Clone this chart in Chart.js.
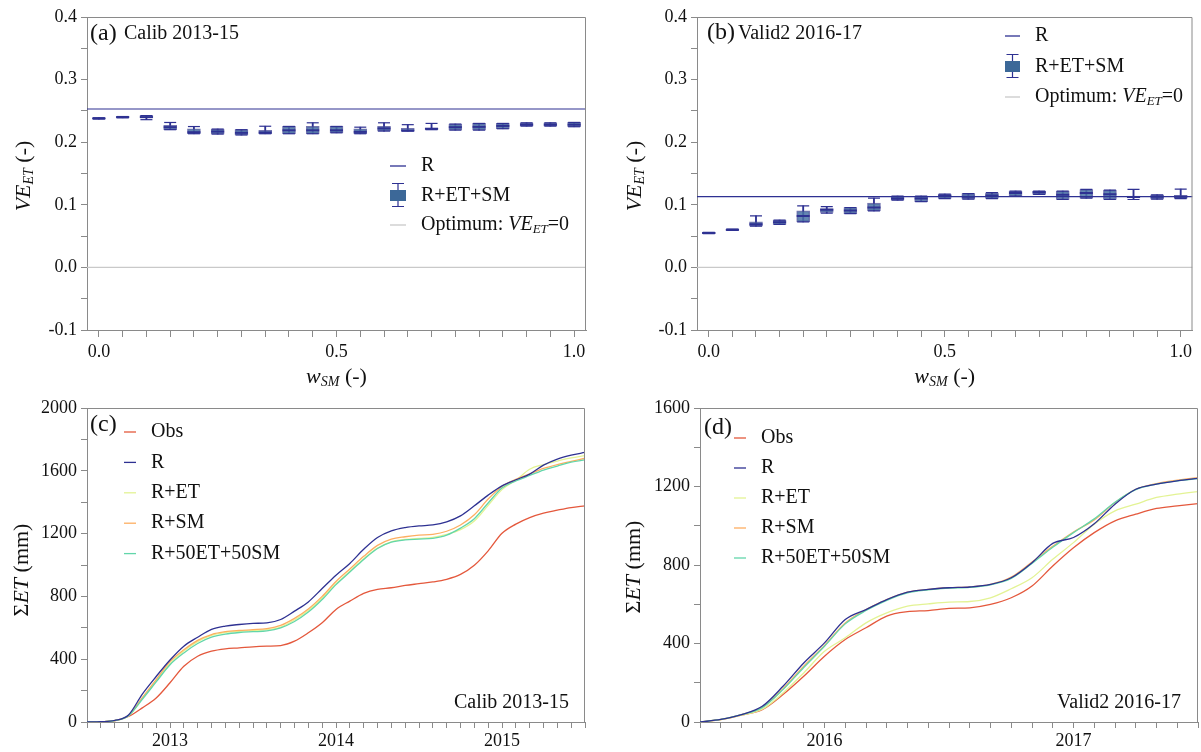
<!DOCTYPE html>
<html>
<head>
<meta charset="utf-8">
<script src="https://cdn.jsdelivr.net/npm/chart.js@4.4.0/dist/chart.umd.min.js"></script>
<style>
  html, body { margin: 0; padding: 0; background: #fff; }
  body { width: 1201px; height: 752px; position: relative; overflow: hidden; }
  canvas { position: absolute; }
</style>
</head>
<body>
<canvas id="ca" style="left:0px;top:0px;width:600px;height:395px" width="600" height="395"></canvas>
<canvas id="cb" style="left:610px;top:0px;width:591px;height:395px" width="591" height="395"></canvas>
<canvas id="cc" style="left:0px;top:376px;width:600px;height:376px" width="600" height="376"></canvas>
<canvas id="cd" style="left:600px;top:376px;width:601px;height:376px" width="601" height="376"></canvas>
<script>
// ---- box plots, panels (a) and (b) ----
const wsm = [0, 0.05, 0.1, 0.15, 0.2, 0.25, 0.3, 0.35, 0.4, 0.45, 0.5, 0.55, 0.6, 0.65, 0.7, 0.75, 0.8, 0.85, 0.9, 0.95, 1.0];

const aLow  = [0.237, 0.239, 0.236, 0.220, 0.2135, 0.213, 0.2115, 0.2135, 0.2135, 0.2135, 0.215, 0.2135, 0.2178, 0.2178, 0.220, 0.2193, 0.2193, 0.2215, 0.2257, 0.2257, 0.2247];
const aQ1   = [0.237, 0.2395, 0.239, 0.220, 0.2135, 0.213, 0.2115, 0.2135, 0.2135, 0.2135, 0.215, 0.2135, 0.2178, 0.2178, 0.2205, 0.2193, 0.2193, 0.2215, 0.2257, 0.2257, 0.2247];
const aMed  = [0.238, 0.240, 0.240, 0.224, 0.216, 0.217, 0.215, 0.2155, 0.219, 0.219, 0.219, 0.2165, 0.222, 0.2185, 0.2215, 0.224, 0.2245, 0.226, 0.228, 0.228, 0.228];
const aQ3   = [0.239, 0.241, 0.2425, 0.227, 0.2215, 0.221, 0.220, 0.219, 0.2252, 0.2252, 0.2252, 0.2215, 0.2252, 0.222, 0.2225, 0.229, 0.230, 0.230, 0.231, 0.231, 0.2316];
const aHigh = [0.239, 0.241, 0.2425, 0.2315, 0.225, 0.221, 0.220, 0.2255, 0.2252, 0.231, 0.2252, 0.224, 0.231, 0.228, 0.230, 0.229, 0.230, 0.230, 0.231, 0.231, 0.2316];
const rLevelA = 0.253;

const bLow  = [0.054, 0.059, 0.066, 0.0685, 0.0728, 0.0867, 0.086, 0.0904, 0.1075, 0.105, 0.110, 0.109, 0.110, 0.114, 0.1165, 0.1085, 0.1107, 0.1085, 0.1085, 0.109, 0.110];
const bQ1   = [0.054, 0.059, 0.066, 0.0685, 0.0728, 0.0877, 0.086, 0.0904, 0.1075, 0.105, 0.110, 0.109, 0.110, 0.114, 0.1165, 0.1085, 0.1107, 0.1085, 0.111, 0.109, 0.110];
const bMed  = [0.055, 0.060, 0.069, 0.072, 0.082, 0.092, 0.091, 0.0957, 0.110, 0.110, 0.114, 0.113, 0.115, 0.119, 0.120, 0.116, 0.119, 0.117, 0.1125, 0.113, 0.113];
const bQ3   = [0.056, 0.061, 0.0728, 0.0756, 0.0904, 0.094, 0.0957, 0.1027, 0.114, 0.114, 0.117, 0.118, 0.119, 0.122, 0.122, 0.122, 0.1245, 0.1235, 0.114, 0.116, 0.115];
const bHigh = [0.056, 0.061, 0.0824, 0.0756, 0.0984, 0.097, 0.0957, 0.1107, 0.114, 0.114, 0.117, 0.118, 0.1195, 0.122, 0.122, 0.122, 0.1245, 0.1235, 0.1245, 0.116, 0.125];
const rLevelB = 0.113;
const optimum = 0;

// ---- cumulative ET, panels (c) and (d), monthly ----
const monthsC = [0,1,2,3,4,5,6,7,8,9,10,11,12,13,14,15,16,17,18,19,20,21,22,23,24,25,26,27,28,29,30,31,32,33,34,35,36];
const yearTicksC = [6, 18, 30];
const yearNamesC = ['2013', '2014', '2015'];
const obsC = [0,2,8,35,90,153,250,355,419,451,466,472,479,483,487,515,568,632,717,770,819,845,855,870,881,892,909,940,998,1090,1202,1260,1302,1330,1349,1366,1377];
const rC   = [0,2,10,45,178,290,395,483,540,590,611,621,628,632,653,706,765,850,935,1010,1100,1175,1217,1238,1249,1255,1275,1313,1377,1445,1504,1543,1579,1636,1675,1700,1717];
const retC = [0,2,9,40,150,262,372,452,512,552,570,578,582,588,605,650,710,790,880,960,1040,1108,1148,1163,1170,1176,1195,1225,1280,1380,1480,1540,1610,1640,1662,1682,1697];
const rsmC = [0,2,9,42,155,270,385,460,520,557,575,583,588,595,615,660,720,800,895,975,1055,1125,1165,1180,1190,1195,1215,1255,1320,1420,1500,1545,1580,1615,1640,1660,1680];
const r50C = [0,2,9,40,145,255,365,440,500,540,560,570,575,580,600,640,700,780,875,955,1035,1105,1145,1160,1165,1170,1190,1235,1295,1395,1490,1535,1570,1605,1630,1655,1670];

const monthsD = [0,1,2,3,4,5,6,7,8,9,10,11,12,13,14,15,16,17,18,19,20,21,22,23,24];
const yearTicksD = [6, 18];
const yearNamesD = ['2016', '2017'];
const obsD = [0,12,35,63,140,233,335,420,480,540,562,568,579,582,599,633,693,795,888,965,1025,1059,1088,1101,1113];
const rD   = [0,13,38,80,182,301,403,522,573,624,662,676,684,688,701,735,812,910,940,1010,1110,1186,1212,1229,1241];
const retD = [0,12,35,65,148,250,360,429,505,556,590,602,611,614,633,679,735,829,914,1008,1076,1110,1144,1161,1174];
const rsmD = [0,13,38,75,170,284,390,505,573,624,662,676,684,688,701,738,815,895,968,1030,1118,1186,1215,1232,1245];
const r50D = [0,13,37,73,165,278,386,500,568,620,658,673,682,686,699,732,808,890,965,1035,1120,1184,1212,1229,1240];

const SERIF = '"Liberation Serif", "DejaVu Serif", serif';
const AXIS = '#8a8a8a';
const NAVY = '#2e3192';
const BOXFILL = 'rgba(74,114,164,0.85)';
const BOXEDGE = 'rgba(70,72,150,0.75)';
const colors = { obs: '#e4583c', r: NAVY, ret: '#e3f394', rsm: '#fdae61', r50: '#62d6aa' };

function f(size, style) { return (style || '') + ' ' + size + 'px ' + SERIF; }

function drawRich(ctx, parts, x, y, align) {
  let w = 0;
  parts.forEach(p => { ctx.font = p.f; w += ctx.measureText(p.t).width; });
  let cx = align === 'center' ? x - w / 2 : (align === 'right' ? x - w : x);
  ctx.textBaseline = 'middle';
  ctx.textAlign = 'left';
  ctx.fillStyle = '#111';
  parts.forEach(p => {
    ctx.font = p.f;
    ctx.fillText(p.t, cx, y + (p.dy || 0));
    cx += ctx.measureText(p.t).width;
  });
}

// frame, titles, legends
function decor(cfg) {
  return {
    id: 'decor',
    afterDraw(chart) {
      const ctx = chart.ctx, a = chart.chartArea;
      ctx.save();
      ctx.strokeStyle = AXIS;
      ctx.lineWidth = 1;
      ctx.beginPath();
      ctx.moveTo(a.left, a.top + 0.5); ctx.lineTo(a.right - 0.5, a.top + 0.5); ctx.lineTo(a.right - 0.5, a.bottom);
      ctx.stroke();

      // y title (rotated)
      ctx.save();
      ctx.translate(cfg.yTitle.x, cfg.yTitle.y);
      ctx.rotate(-Math.PI / 2);
      drawRich(ctx, cfg.yTitle.parts, 0, 0, 'center');
      ctx.restore();
      if (cfg.xTitle) drawRich(ctx, cfg.xTitle.parts, (a.left + a.right) / 2, cfg.xTitle.y, 'center');

      cfg.texts.forEach(t => drawRich(ctx, t.parts, t.x, t.y, t.align || 'left'));

      cfg.legend.items.forEach((it, i) => {
        const y = cfg.legend.y + i * cfg.legend.dy;
        const x0 = cfg.legend.x0, x1 = cfg.legend.x1;
        if (it.box) {
          const cx = (x0 + x1) / 2;
          ctx.strokeStyle = NAVY; ctx.lineWidth = 1.2;
          ctx.beginPath();
          ctx.moveTo(cx, y - 12); ctx.lineTo(cx, y + 11);
          ctx.moveTo(cx - 6, y - 12); ctx.lineTo(cx + 6, y - 12);
          ctx.moveTo(cx - 6, y + 11); ctx.lineTo(cx + 6, y + 11);
          ctx.stroke();
          ctx.fillStyle = '#3c6898';
          ctx.fillRect(x0, y - 5.5, x1 - x0, 11);
        } else {
          ctx.strokeStyle = it.color; ctx.lineWidth = it.w || 1.3;
          ctx.beginPath(); ctx.moveTo(x0, y); ctx.lineTo(x1, y); ctx.stroke();
        }
        drawRich(ctx, it.parts, cfg.legend.tx, y, 'left');
      });
      ctx.restore();
    }
  };
}

function tickGrid() {
  return { drawOnChartArea: false, drawTicks: true, tickLength: 6, color: AXIS, lineWidth: 1 };
}

function boxChart(id, lo, q1, med, q3, hi, rLevel, padRight, cfg) {
  const pts = arr => wsm.map((x, i) => ({ x: x, y: arr[i] }));
  const spans = (a, b) => wsm.map((x, i) => ({ x: x, y: [a[i], b[i]] }));
  const xMin = -0.025, xMax = 1.025;
  return new Chart(document.getElementById(id), {
    type: 'bar',
    data: {
      datasets: [
        { type: 'line', data: [{ x: xMin, y: rLevel }, { x: xMax, y: rLevel }], borderColor: NAVY, borderWidth: 1.2, pointRadius: 0, order: 0 },
        { type: 'line', data: [{ x: xMin, y: optimum }, { x: xMax, y: optimum }], borderColor: '#c9c9c9', borderWidth: 1.2, pointRadius: 0, order: 5 },
        { type: 'line', data: pts(med), showLine: false, pointStyle: 'line', pointRadius: 6.5, borderColor: NAVY, borderWidth: 2, order: 1 },
        { type: 'line', data: pts(hi), showLine: false, pointStyle: 'line', pointRadius: 6, borderColor: NAVY, borderWidth: 1.2, order: 1 },
        { type: 'line', data: pts(lo), showLine: false, pointStyle: 'line', pointRadius: 6, borderColor: NAVY, borderWidth: 1.2, order: 1 },
        { data: spans(q1, q3), barThickness: 13, grouped: false, backgroundColor: BOXFILL, borderColor: BOXEDGE, borderWidth: 1.2, borderSkipped: false, order: 2 },
        { data: spans(lo, hi), barThickness: 1.2, grouped: false, backgroundColor: NAVY, borderWidth: 0, order: 3 }
      ]
    },
    options: {
      responsive: false,
      animation: false,
      layout: { padding: { top: 17, right: padRight, left: 0, bottom: 0 } },
      plugins: { legend: { display: false }, tooltip: { enabled: false } },
      scales: {
        x: {
          type: 'linear', min: xMin, max: xMax, offset: false,
          grid: Object.assign(tickGrid(), { tickLength: 7, offset: false }),
          border: { display: true, color: AXIS },
          afterBuildTicks: s => { s.ticks = wsm.map(v => ({ value: v })); },
          afterFit: s => { s.height = 65; },
          ticks: {
            autoSkip: false, maxRotation: 0, padding: 4, color: '#111', font: { family: SERIF, size: 18 },
            callback: v => (Math.round(v * 100) % 50 === 0 ? v.toFixed(1) : '')
          }
        },
        y: {
          min: -0.1, max: 0.4,
          grid: tickGrid(),
          border: { display: true, color: AXIS },
          afterFit: s => { s.width = 87; },
          ticks: {
            stepSize: 0.05, padding: 4, color: '#111', font: { family: SERIF, size: 18 },
            callback: v => (Math.round(v * 100) % 10 === 0 ? v.toFixed(1) : '')
          }
        }
      }
    },
    plugins: [decor(cfg)]
  });
}

function etChart(id, months, yMax, yearTicks, yearNames, series, padLeft, padRight, cfg) {
  const names = ['obs', 'r', 'ret', 'rsm', 'r50'];
  return new Chart(document.getElementById(id), {
    type: 'line',
    data: {
      datasets: series.map((s, k) => ({
        data: months.map((m, i) => ({ x: m, y: s[i] })),
        borderColor: colors[names[k]], borderWidth: 1.3, pointRadius: 0,
        cubicInterpolationMode: 'monotone', order: [4, 0, 3, 2, 1][k]
      }))
    },
    options: {
      responsive: false,
      animation: false,
      layout: { padding: { top: 32, right: padRight, left: 0, bottom: 0 } },
      plugins: { legend: { display: false }, tooltip: { enabled: false } },
      scales: {
        x: {
          type: 'linear', min: 0, max: months[months.length - 1],
          grid: Object.assign(tickGrid(), { tickLength: 6 }),
          border: { display: true, color: AXIS },
          afterBuildTicks: s => { s.ticks = months.map(v => ({ value: v })); },
          afterFit: s => { s.height = 30; },
          ticks: {
            autoSkip: false, maxRotation: 0, padding: 2, color: '#111', font: { family: SERIF, size: 18 },
            callback: v => { const j = yearTicks.indexOf(v); return j >= 0 ? yearNames[j] : ''; }
          }
        },
        y: {
          min: 0, max: yMax,
          grid: tickGrid(),
          border: { display: true, color: AXIS },
          afterFit: s => { s.width = padLeft; },
          ticks: {
            stepSize: 200, padding: 4, color: '#111', font: { family: SERIF, size: 18 },
            callback: v => (v % 400 === 0 ? String(v) : '')
          }
        }
      }
    },
    plugins: [decor(cfg)]
  });
}

const veTitle = [
  { t: 'VE', f: f(22, 'italic') }, { t: 'ET', f: f(14, 'italic'), dy: 5 }, { t: ' (-)', f: f(22) }
];
const wTitle = [
  { t: 'w', f: f(22, 'italic') }, { t: 'SM', f: f(14, 'italic'), dy: 5 }, { t: ' (-)', f: f(22) }
];
const etTitle = [
  { t: '\u03A3', f: f(22) }, { t: 'ET', f: f(22, 'italic') }, { t: ' (mm)', f: f(22) }
];
const boxLegend = [
  { color: NAVY, parts: [{ t: 'R', f: f(20) }] },
  { box: true, parts: [{ t: 'R+ET+SM', f: f(20) }] },
  { color: '#c9c9c9', parts: [{ t: 'Optimum: ', f: f(20) }, { t: 'VE', f: f(20, 'italic') }, { t: 'ET', f: f(13, 'italic'), dy: 5 }, { t: '=0', f: f(20) }] }
];
const lineLegend = [
  { color: colors.obs, parts: [{ t: 'Obs', f: f(20) }] },
  { color: colors.r, parts: [{ t: 'R', f: f(20) }] },
  { color: colors.ret, parts: [{ t: 'R+ET', f: f(20) }] },
  { color: colors.rsm, parts: [{ t: 'R+SM', f: f(20) }] },
  { color: colors.r50, parts: [{ t: 'R+50ET+50SM', f: f(20) }] }
];

boxChart('ca', aLow, aQ1, aMed, aQ3, aHigh, rLevelA, 14, {
  yTitle: { x: 24, y: 176, parts: veTitle },
  xTitle: { y: 377, parts: wTitle },
  texts: [
    { x: 90, y: 34, parts: [{ t: '(a)', f: f(24) }] },
    { x: 124, y: 34, parts: [{ t: 'Calib 2013-15', f: f(20) }] }
  ],
  legend: { x0: 390, x1: 406, tx: 421, y: 166, dy: 29.5, items: boxLegend }
});

boxChart('cb', bLow, bQ1, bMed, bQ3, bHigh, rLevelB, 5, {
  yTitle: { x: 25, y: 176, parts: veTitle },
  xTitle: { y: 377, parts: wTitle },
  texts: [
    { x: 97, y: 33, parts: [{ t: '(b)', f: f(24) }] },
    { x: 128, y: 34, parts: [{ t: 'Valid2 2016-17', f: f(20) }] }
  ],
  legend: { x0: 395, x1: 410, tx: 425, y: 36, dy: 30.5, items: boxLegend }
});

etChart('cc', monthsC, 2000, yearTicksC, yearNamesC, [obsC, rC, retC, rsmC, r50C], 87, 15, {
  yTitle: { x: 22, y: 194, parts: etTitle },
  texts: [
    { x: 90, y: 49, parts: [{ t: '(c)', f: f(24) }] },
    { x: 569, y: 327, align: 'right', parts: [{ t: 'Calib 2013-15', f: f(20) }] }
  ],
  legend: { x0: 124, x1: 136, tx: 151, y: 56, dy: 30.4, items: lineLegend }
});

etChart('cd', monthsD, 1600, yearTicksD, yearNamesD, [obsD, rD, retD, rsmD, r50D], 100, 3, {
  yTitle: { x: 34, y: 191, parts: etTitle },
  texts: [
    { x: 104, y: 52, parts: [{ t: '(d)', f: f(24) }] },
    { x: 581, y: 327, align: 'right', parts: [{ t: 'Valid2 2016-17', f: f(20) }] }
  ],
  legend: { x0: 134, x1: 146, tx: 161, y: 62, dy: 30, items: lineLegend }
});
</script>
</body>
</html>
